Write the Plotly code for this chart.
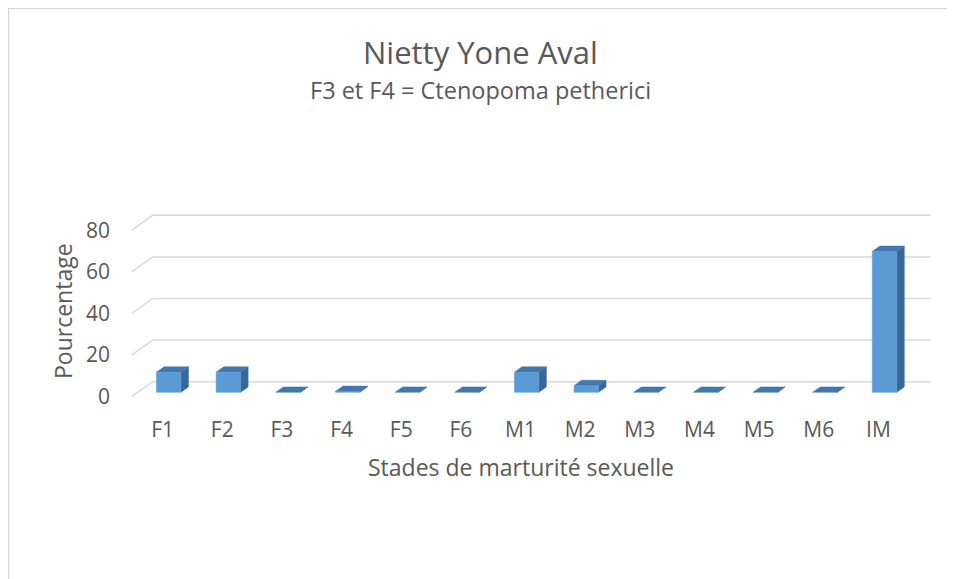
import plotly.graph_objects as go

# ---- data ----
categories = ["F1", "F2", "F3", "F4", "F5", "F6", "M1", "M2", "M3", "M4", "M5", "M6", "IM"]
pourcentage = [9.68, 9.68, 0, 0.4, 0, 0, 9.68, 3.23, 0, 0, 0, 0, 67.74]
y_ticks = [0, 20, 40, 60, 80]

title_text = "Nietty Yone Aval"
subtitle_text = "F3 et F4 = Ctenopoma petherici"
x_title = "Stades de marturité sexuelle"
y_title = "Pourcentage"

# ---- geometry (oblique 3D look) ----
OFF = 8                      # page body margin offset
W, H = 955 - OFF, 579 - OFF
ML, MT = 131 - OFF, 200 - OFF
PW, PH = 800, 200
MB = H - MT - PH
MR = W - ML - PW
px_per_cat = 59.65
px_per_unit = 2.08
x_lo = -0.53
x_hi = x_lo + PW / px_per_cat
y_lo = -3.3 / px_per_unit
y_hi = y_lo + PH / px_per_unit

DX = 21 / px_per_cat      # full depth offset (x, category units)
DY = 15 / px_per_unit     # full depth offset (y, value units)
d0, d1 = 0.29, 0.65       # bar depth span (fraction)
BW = 0.41                 # bar width (category units)

TXT = "#595959"
GRID = "#D9D9D9"
FONT = "Open Sans"

fig = go.Figure()

# gridlines: left wall diagonal + back wall horizontal
gx, gy = [], []
for v in y_ticks:
    gx += [x_lo + 0.01, x_lo + 0.01 + DX, x_hi - 0.005, None]
    gy += [v, v + DY, v + DY, None]
fig.add_trace(go.Scatter(x=gx, y=gy, mode="lines", line=dict(color=GRID, width=1.5),
                         hoverinfo="skip", showlegend=False))

# bars as three faces each
side_x, side_y, top_x, top_y, front_x, front_y = [], [], [], [], [], []
for i, v in enumerate(pourcentage):
    cx = i + d0 * DX
    b = d0 * DY
    xl, xr = cx - BW / 2, cx + BW / 2
    ddx, ddy = (d1 - d0) * DX, (d1 - d0) * DY
    side_x += [xr, xr, xr + ddx, xr + ddx, xr, None]
    side_y += [b, b + v, b + v + ddy, b + ddy, b, None]
    top_x += [xl, xr, xr + ddx, xl + ddx, xl, None]
    top_y += [b + v, b + v, b + v + ddy, b + v + ddy, b + v, None]
    if v > 0:
        front_x += [xl, xr, xr, xl, xl, None]
        front_y += [b, b, b + v, b + v, b, None]

for xs, ys, col in [(side_x, side_y, "#3A6896"), (top_x, top_y, "#4277AE"),
                    (front_x, front_y, "#5B9BD5")]:
    fig.add_trace(go.Scatter(x=xs, y=ys, mode="lines", fill="toself", fillcolor=col,
                             line=dict(color=col, width=0.5), hoverinfo="skip",
                             showlegend=False))

def pxx(px):
    return (px - OFF - ML) / PW

def pxy(py):
    return (MT + PH - (py - OFF)) / PH

annotations = [
    dict(text=title_text, x=pxx(480), y=pxy(52), font=dict(size=31, color=TXT, family=FONT)),
    dict(text=subtitle_text, x=pxx(480), y=pxy(90), font=dict(size=23.5, color=TXT, family=FONT)),
    dict(text=x_title, x=pxx(521), y=pxy(467), font=dict(size=23, color=TXT, family=FONT)),
    dict(text=y_title, x=pxx(63), y=pxy(311), textangle=-90, font=dict(size=23, color=TXT, family=FONT)),
]
for a in annotations:
    a.update(xref="paper", yref="paper", showarrow=False, xanchor="center", yanchor="middle")

fig.update_layout(
    width=W, height=H,
    margin=dict(l=ML, r=MR, t=MT, b=MB, pad=0),
    paper_bgcolor="white", plot_bgcolor="white",
    font=dict(family=FONT, color=TXT),
    annotations=annotations,
    shapes=[dict(type="rect", xref="paper", yref="paper",
                 x0=pxx(8.6), x1=pxx(975), y0=pxy(600), y1=pxy(8.6),
                 line=dict(color=GRID, width=1.2), fillcolor="rgba(0,0,0,0)", layer="below")],
    xaxis=dict(range=[x_lo, x_hi], tickvals=list(range(len(categories))), ticktext=categories,
               showgrid=False, zeroline=False, showline=False, ticks="",
               tickfont=dict(size=21, color=TXT, family=FONT), ticklabelstandoff=15,
               fixedrange=True),
    yaxis=dict(range=[y_lo, y_hi], tickvals=y_ticks, showgrid=False, zeroline=False,
               showline=False, ticks="", tickfont=dict(size=21, color=TXT, family=FONT),
               ticklabelstandoff=20, fixedrange=True),
)

fig.write_html("out.html")
